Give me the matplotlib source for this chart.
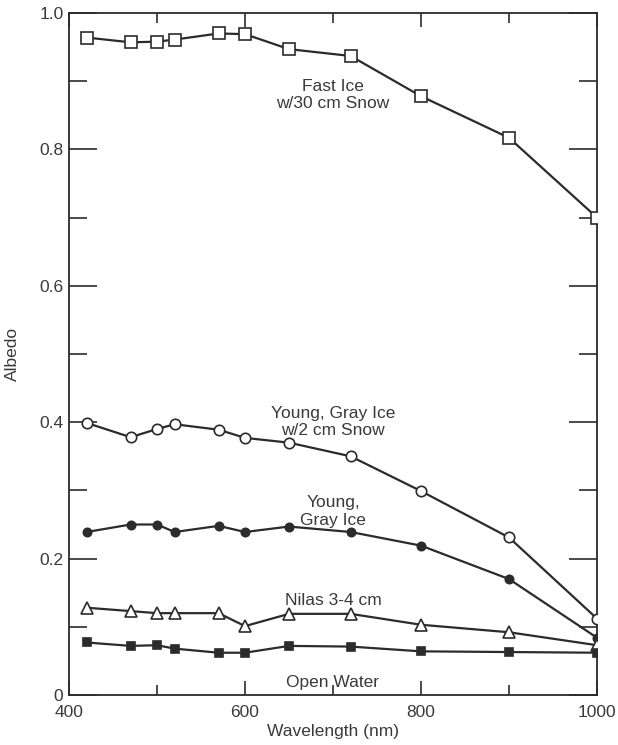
#!/usr/bin/env python3
"""Spectral albedo of sea ice types versus wavelength."""

import matplotlib
matplotlib.use("Agg")
import matplotlib.pyplot as plt
from matplotlib.ticker import FixedLocator, FixedFormatter, MultipleLocator

wavelength = [420, 470, 500, 520, 570, 600, 650, 720, 800, 900, 1000]

fast_ice_snow = [0.964, 0.957, 0.958, 0.961, 0.970, 0.969, 0.947, 0.937, 0.878, 0.817, 0.700]
gray_ice_snow = [0.399, 0.378, 0.390, 0.397, 0.389, 0.377, 0.370, 0.350, 0.299, 0.231, 0.112]
gray_ice = [0.239, 0.250, 0.250, 0.239, 0.248, 0.239, 0.247, 0.239, 0.219, 0.170, 0.084]
nilas = [0.128, 0.123, 0.120, 0.120, 0.120, 0.101, 0.119, 0.119, 0.103, 0.092, 0.073]
open_water = [0.077, 0.072, 0.073, 0.068, 0.062, 0.062, 0.072, 0.071, 0.064, 0.063, 0.062]

labels = [
    ("Fast Ice\nw/30 cm Snow", 700, 0.880),
    ("Young, Gray Ice\nw/2 cm Snow", 700, 0.400),
    ("Young,\nGray Ice", 700, 0.269),
    ("Nilas 3-4 cm", 700, 0.139),
    ("Open Water", 700, 0.018),
]

y_ticks = [0, 0.2, 0.4, 0.6, 0.8, 1.0]
y_ticklabels = ["0", "0.2", "0.4", "0.6", "0.8", "1.0"]
x_ticks = [400, 600, 800, 1000]

INK = "#2b2b2b"
TXT = "#3a3a3a"
plt.rcParams["font.family"] = ["Liberation Sans", "DejaVu Sans"]

fig = plt.figure(figsize=(6.18, 7.45), dpi=100)
ax = fig.add_axes([69 / 618, 50 / 745, 528 / 618, 682 / 745])

line_kw = dict(color=INK, lw=1.6, markeredgewidth=1.2, markeredgecolor=INK, zorder=3)
ax.plot(wavelength, fast_ice_snow, marker="s", ms=9, mfc="white", **line_kw)
ax.plot(wavelength, gray_ice_snow, marker="o", ms=7.5, mfc="white", **line_kw)
ax.plot(wavelength, gray_ice, marker="o", ms=6, mfc=INK, **line_kw)
ax.plot(wavelength, nilas, marker="^", ms=9, mfc="white", **line_kw)
ax.plot(wavelength, open_water, marker="s", ms=5.5, mfc=INK, **line_kw)

for text, x, y in labels:
    ax.text(x, y, text, ha="center", va="center", fontsize=12.5,
            color=TXT, linespacing=1.2)

ax.set_xlim(400, 1000)
ax.set_ylim(0, 1.0)
ax.xaxis.set_major_locator(FixedLocator(x_ticks))
ax.xaxis.set_minor_locator(MultipleLocator(100))
ax.yaxis.set_major_locator(FixedLocator(y_ticks))
ax.yaxis.set_major_formatter(FixedFormatter(y_ticklabels))
ax.yaxis.set_minor_locator(MultipleLocator(0.1))

ax.tick_params(axis="both", which="both", direction="in", top=True, right=True,
               color=INK, labelcolor=TXT, labelsize=12.5, width=1.2)
ax.tick_params(axis="x", which="major", length=10, pad=7)
ax.tick_params(axis="x", which="minor", length=7)
ax.tick_params(axis="y", which="major", length=20, pad=4)
ax.tick_params(axis="y", which="minor", length=13)

for spine in ax.spines.values():
    spine.set_color(INK)
    spine.set_linewidth(1.3)

ax.set_xlabel("Wavelength (nm)", fontsize=12.5, color=TXT, labelpad=3)
ax.set_ylabel("Albedo", fontsize=12.5, color=TXT, labelpad=14)

fig.savefig("out.png", dpi=100, facecolor="white")
plt.close(fig)
